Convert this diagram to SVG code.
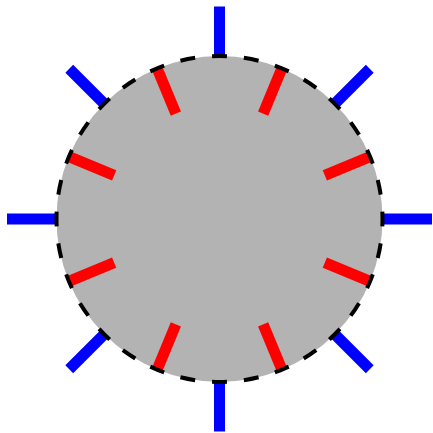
<svg xmlns="http://www.w3.org/2000/svg" width="433" height="433" viewBox="0 0 433 433">
<style>
.blue{stroke:#0000ff;stroke-width:11}
.red{stroke:#ff0000;stroke-width:11}
.ring{fill:none;stroke:#000;stroke-width:4;stroke-dasharray:15 17;stroke-dashoffset:7.5}
</style>
<rect width="433" height="433" fill="#fff"/>
<g transform="translate(219.5 219)">
<circle id="disk" r="163" fill="#b3b3b3"/>
<g id="blue-ticks">
<line class="blue" x1="0" y1="-163" x2="0" y2="-212.5" transform="rotate(0)"/>
<line class="blue" x1="0" y1="-163" x2="0" y2="-212.5" transform="rotate(45)"/>
<line class="blue" x1="0" y1="-163" x2="0" y2="-212.5" transform="rotate(90)"/>
<line class="blue" x1="0" y1="-163" x2="0" y2="-212.5" transform="rotate(135)"/>
<line class="blue" x1="0" y1="-163" x2="0" y2="-212.5" transform="rotate(180)"/>
<line class="blue" x1="0" y1="-163" x2="0" y2="-212.5" transform="rotate(225)"/>
<line class="blue" x1="0" y1="-163" x2="0" y2="-212.5" transform="rotate(270)"/>
<line class="blue" x1="0" y1="-163" x2="0" y2="-212.5" transform="rotate(315)"/>
</g>
<g id="red-ticks">
<line class="red" x1="0" y1="-114" x2="0" y2="-163" transform="rotate(22.5)"/>
<line class="red" x1="0" y1="-114" x2="0" y2="-163" transform="rotate(67.5)"/>
<line class="red" x1="0" y1="-114" x2="0" y2="-163" transform="rotate(112.5)"/>
<line class="red" x1="0" y1="-114" x2="0" y2="-163" transform="rotate(157.5)"/>
<line class="red" x1="0" y1="-114" x2="0" y2="-163" transform="rotate(202.5)"/>
<line class="red" x1="0" y1="-114" x2="0" y2="-163" transform="rotate(247.5)"/>
<line class="red" x1="0" y1="-114" x2="0" y2="-163" transform="rotate(292.5)"/>
<line class="red" x1="0" y1="-114" x2="0" y2="-163" transform="rotate(337.5)"/>
</g>
<circle id="ring" class="ring" r="163" pathLength="1024"/>
</g>
</svg>
